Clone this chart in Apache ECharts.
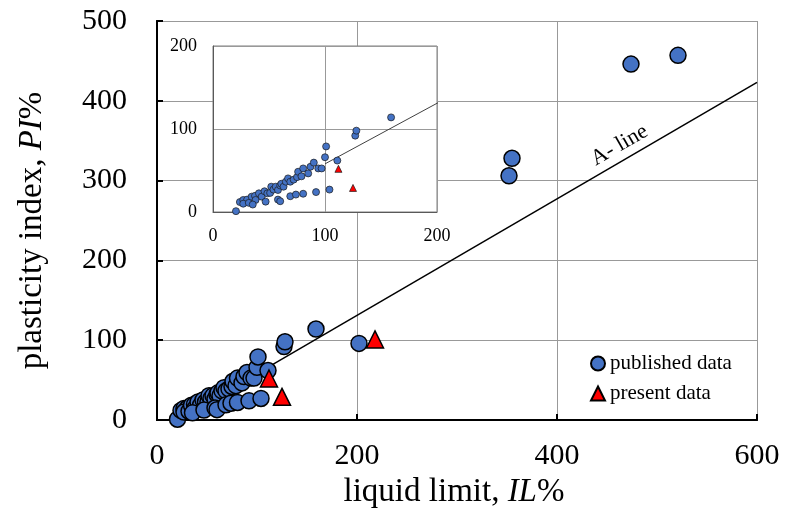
<!DOCTYPE html>
<html>
<head>
<meta charset="utf-8">
<script src="https://cdn.jsdelivr.net/npm/echarts@6/dist/echarts.min.js"></script>
<style>
  html, body { margin: 0; padding: 0; background: #fff; }
  #chart { width: 786px; height: 515px; }
</style>
</head>
<body>
<div id="chart"></div>
<script>
// [liquid limit, plasticity index]
const publishedData = [
  [20.5, 1], [24, 12], [27, 14.5], [30.5, 15], [27, 10], [32, 11], [34.5, 18.5],
  [37.5, 19.5], [38, 14.5], [41, 22.5], [43.5, 18.5], [46, 25], [48.5, 22.5],
  [51, 23], [52, 30.5], [54, 27], [56, 30.5], [58, 26.5], [60, 32], [61, 34],
  [63, 30.5], [65, 36.5], [67, 40.5], [69, 36.5], [72, 39], [75, 42], [76, 48.5],
  [79, 43], [80.5, 52.5], [85, 46.5], [87, 54.5], [90, 59.5], [94, 52.5], [97, 52.5],
  [100, 66], [101, 79], [111, 62], [127, 92], [128, 98], [159, 114],
  [35.5, 9], [47, 12.5], [58, 15], [60, 13], [69, 19], [74, 21], [80.5, 22],
  [92, 24], [104, 27], [202, 96],
  [352, 306], [355, 328], [474, 446], [521, 457]
]
const presentData = [[112, 52], [125, 29], [218, 101]]
const aLine = [[100, 58], [600, 423]]
const aLineLabelAt = [[470, 328]]

const xTicks = { min: 0, max: 600, interval: 200 }
const yTicks = { min: 0, max: 500, interval: 100 }
const insetTicks = { min: 0, max: 200, interval: 100 }

const serif = 'Liberation Serif'
const blue = '#4472c4'

const chart = echarts.init(document.getElementById('chart'))

const option = {
  animation: false,
  backgroundColor: '#fff',
  textStyle: { fontFamily: serif, color: '#000' },
  grid: [
    { left: 157, top: 21, width: 600, height: 399 },
    {
      left: 213, top: 46, width: 224, height: 166, z: 3,
      show: true, backgroundColor: '#fff', borderColor: '#7f7f7f', borderWidth: 1
    }
  ],
  xAxis: [
    {
      gridIndex: 0, type: 'value', ...xTicks, z: 1,
      name: '{n|liquid limit, }{i|IL}{n|%}',
      nameLocation: 'middle', nameGap: 47,
      nameTextStyle: {
        padding: [0, 6, 0, 0],
        rich: {
          n: { fontFamily: serif, fontSize: 33, color: '#000' },
          i: { fontFamily: serif, fontSize: 33, fontStyle: 'italic', color: '#000' }
        }
      },
      axisLine: { lineStyle: { color: '#000', width: 2 } },
      axisTick: { inside: true, length: 6, lineStyle: { color: '#000', width: 2 } },
      axisLabel: { fontFamily: serif, fontSize: 30, color: '#000', margin: 21 },
      splitLine: { lineStyle: { color: '#999', width: 1 } }
    },
    {
      gridIndex: 0, type: 'value', position: 'top', ...xTicks, z: 1,
      axisLine: { lineStyle: { color: '#000', width: 2 } },
      axisTick: { show: false }, axisLabel: { show: false }, splitLine: { show: false }
    },
    {
      gridIndex: 1, type: 'value', ...insetTicks, z: 4,
      axisLine: { lineStyle: { color: '#595959', width: 1 } },
      axisTick: { show: false },
      axisLabel: { fontFamily: serif, fontSize: 18, color: '#000', margin: 15 },
      splitLine: { lineStyle: { color: '#999', width: 1 } }
    }
  ],
  yAxis: [
    {
      gridIndex: 0, type: 'value', ...yTicks, z: 1,
      name: '{n|plasticity index, }{i|PI}{n|%}',
      nameLocation: 'middle', nameGap: 108, nameRotate: 90,
      nameTextStyle: {
        padding: [0, 20, 0, 0],
        rich: {
          n: { fontFamily: serif, fontSize: 33, color: '#000' },
          i: { fontFamily: serif, fontSize: 33, fontStyle: 'italic', color: '#000' }
        }
      },
      axisLine: { lineStyle: { color: '#000', width: 2 } },
      axisTick: { inside: true, length: 6, lineStyle: { color: '#000', width: 2 } },
      axisLabel: { fontFamily: serif, fontSize: 30, color: '#000', margin: 30 },
      splitLine: { lineStyle: { color: '#999', width: 1 } }
    },
    {
      gridIndex: 0, type: 'value', position: 'right', ...yTicks, z: 1,
      axisLine: { lineStyle: { color: '#000', width: 2 } },
      axisTick: { show: false }, axisLabel: { show: false }, splitLine: { show: false }
    },
    {
      gridIndex: 1, type: 'value', ...insetTicks, z: 4,
      axisLine: { lineStyle: { color: '#595959', width: 1 } },
      axisTick: { show: false },
      axisLabel: { fontFamily: serif, fontSize: 18, color: '#000', margin: 16 },
      splitLine: { lineStyle: { color: '#999', width: 1 } }
    }
  ],
  legend: {
    orient: 'vertical',
    left: 585, top: 348,
    itemWidth: 14, itemHeight: 14, itemGap: 9,
    textStyle: { fontFamily: serif, fontSize: 21, color: '#000' },
    data: [
      { name: 'published data', icon: 'circle' },
      { name: 'present data', icon: 'triangle' }
    ]
  },
  series: [
    {
      name: 'A-line', type: 'line', xAxisIndex: 0, yAxisIndex: 0,
      data: aLine, symbol: 'none', z: 2,
      lineStyle: { color: '#000', width: 1.5 }
    },
    {
      name: 'A-line label', type: 'scatter', xAxisIndex: 0, yAxisIndex: 0,
      data: aLineLabelAt, symbol: 'circle', symbolSize: 1, z: 2, silent: true,
      itemStyle: { color: 'rgba(0,0,0,0)' },
      label: {
        show: true, position: 'inside', formatter: 'A- line', rotate: 30,
        offset: [0, -15], fontFamily: serif, fontSize: 22, color: '#000', opacity: 1
      }
    },
    {
      name: 'published data', type: 'scatter', xAxisIndex: 0, yAxisIndex: 0,
      data: publishedData, symbol: 'circle', symbolSize: 16, z: 3,
      itemStyle: { color: blue, borderColor: '#000', borderWidth: 1.5, opacity: 1 }
    },
    {
      name: 'present data', type: 'scatter', xAxisIndex: 0, yAxisIndex: 0,
      data: presentData, symbol: 'triangle', symbolSize: 17, z: 4,
      itemStyle: { color: '#ff0000', borderColor: '#000', borderWidth: 1.5, opacity: 1 }
    },
    {
      name: 'A-line inset', type: 'line', xAxisIndex: 2, yAxisIndex: 2,
      data: aLine, symbol: 'none', z: 6, clip: true,
      lineStyle: { color: '#404040', width: 1 }
    },
    {
      name: 'published data', type: 'scatter', xAxisIndex: 2, yAxisIndex: 2,
      data: publishedData, symbol: 'circle', symbolSize: 7, z: 7, clip: true,
      itemStyle: { color: blue, borderColor: '#1a1a1a', borderWidth: 0.7, opacity: 1 }
    },
    {
      name: 'present data', type: 'scatter', xAxisIndex: 2, yAxisIndex: 2,
      data: presentData, symbol: 'triangle', symbolSize: 7, z: 8, clip: true,
      itemStyle: { color: '#ff0000', borderColor: '#1a1a1a', borderWidth: 0.7, opacity: 1 }
    }
  ]
}

chart.setOption(option)
</script>
</body>
</html>
